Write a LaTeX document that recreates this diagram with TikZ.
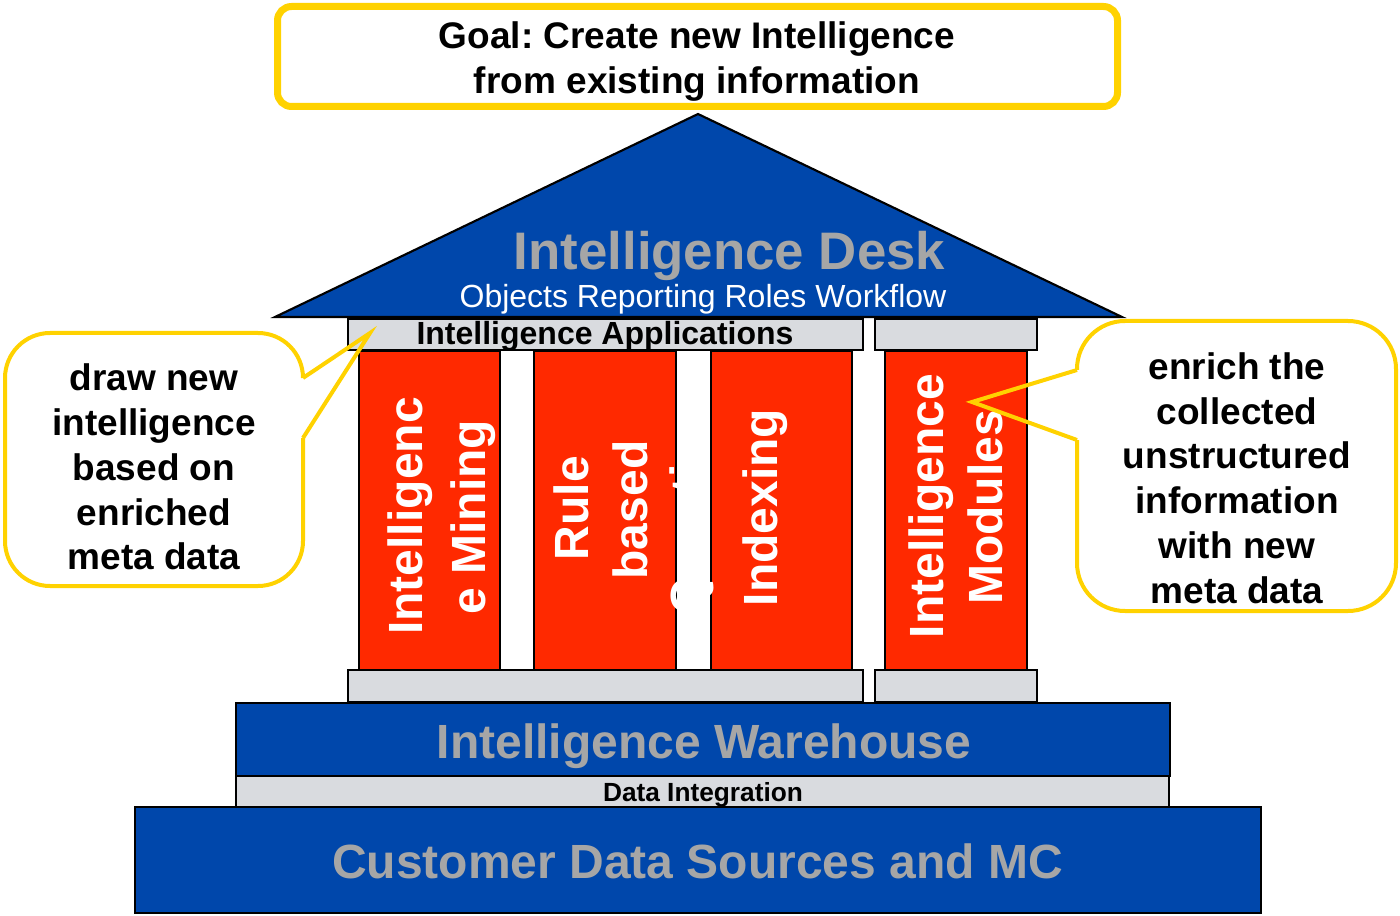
\documentclass[tikz,border=0pt]{standalone}
\usepackage{fontspec}
\setmainfont{Liberation Sans}
\frenchspacing
\definecolor{ibmblue}{RGB}{0,71,171}
\definecolor{pillarred}{RGB}{255,41,0}
\definecolor{textgray}{RGB}{166,166,166}
\definecolor{bargray}{RGB}{217,219,223}
\definecolor{calloutyellow}{RGB}{255,210,0}
\begin{document}
\begin{tikzpicture}[x=0.75pt,y=-0.75pt,
  blk/.style={draw=black,line width=1.6pt},
  bluebox/.style={blk,fill=ibmblue},
  graybar/.style={blk,fill=bargray},
  pillar/.style={blk,fill=pillarred},
  ptext/.style={text=white,font=\fontsize{36}{43}\selectfont\bfseries,rotate=90,anchor=base,inner sep=0pt},
  bigtext/.style={text=textgray,font=\fontsize{36}{43}\selectfont\bfseries,anchor=base,inner sep=0pt},
  desktext/.style={text=textgray,font=\fontsize{39.6}{47}\selectfont\bfseries,anchor=base,inner sep=0pt},
  objtext/.style={text=white,font=\fontsize{24}{29}\selectfont,anchor=base,inner sep=0pt},
  apptext/.style={text=black,font=\fontsize{24}{29}\selectfont\bfseries,anchor=base,inner sep=0pt},
  ditext/.style={text=black,font=\fontsize{19.7}{24}\selectfont\bfseries,anchor=base,inner sep=0pt},
  goalbox/.style={draw=calloutyellow,line width=5.25pt,rounded corners=10.5pt},
  callout/.style={draw=calloutyellow,line width=3pt},
  ctext/.style={text=black,font=\fontsize{27.75}{33.6}\selectfont\bfseries,align=center,inner sep=0pt}]
\useasboundingbox (0,0) rectangle (1400,916);

% roof
\draw[blk,fill=ibmblue,line join=miter] (698,114) -- (1122,317) -- (275,317) -- cycle;
% top bars
\draw[graybar] (348,319) rectangle (863,350);
\draw[graybar] (875,319) rectangle (1037,350);
% pillars
\draw[pillar] (359,351) rectangle (500,670);
\draw[pillar] (534,351) rectangle (676,670);
\draw[pillar] (711,351) rectangle (852,670);
\draw[pillar] (885,351) rectangle (1027,670);
% bottom bars
\draw[graybar] (348,670) rectangle (863,702);
\draw[graybar] (875,670) rectangle (1037,702);
% foundation
\draw[bluebox] (236,703) rectangle (1170,776);
\draw[graybar] (236,776) rectangle (1169,807);
\draw[bluebox] (135,807) rectangle (1261,913);

% texts
\node[desktext] (desk) at (729.5,270) {Intelligence Desk};
\node[objtext] (objs) at (703,308) {Objects Reporting Roles Workflow};
\node[apptext] (apps) at (605,345) {Intelligence Applications};

\node[ptext] (p1a) at (422,516) {Intelligenc};
\node[ptext] (p1b) at (485,517) {e Mining};
\node[ptext] (p2a) at (588,508) {Rule};
\node[ptext] (p2b) at (647,510) {based};
\node[ptext] (p2c) at (704,510) {Question};
\node[ptext] (p3a) at (777,507.5) {Indexing};
\node[ptext] (p4a) at (943,506) {Intelligence};
\node[ptext] (p4b) at (1002,507.5) {Modules};

\node[bigtext] (wh) at (704,758) {Intelligence Warehouse};
\node[ditext] (di) at (703,801) {Data Integration};
\node[bigtext] (cust) at (697.5,878) {Customer Data Sources and MC};

% goal
\draw[goalbox] (277.5,6.5) rectangle (1117.5,106.5);
\node[ctext] (goal) at (697,61.5) {Goal: Create new Intelligence\\from existing information};

% left callout
\draw[callout,rounded corners=33.75pt] (303,438) -- (303,586) -- (5,586) -- (5,333) -- (303,333) -- (303,378);
\draw[callout,line join=miter] (303,378) -- (370,333) -- (303,438);
\node[ctext] (lt) at (154,467) {draw new\\intelligence\\based on\\enriched\\meta data};

% right callout
\draw[callout,rounded corners=36pt] (1077,440) -- (1077,611) -- (1396,611) -- (1396,321) -- (1077,321) -- (1077,370);
\draw[callout,line join=miter] (1077,370) -- (972,402) -- (1077,440);
\node[ctext] (rt) at (1237,478) {enrich the\\collected\\unstructured\\information\\with new\\meta data};
\end{tikzpicture}
\end{document}
